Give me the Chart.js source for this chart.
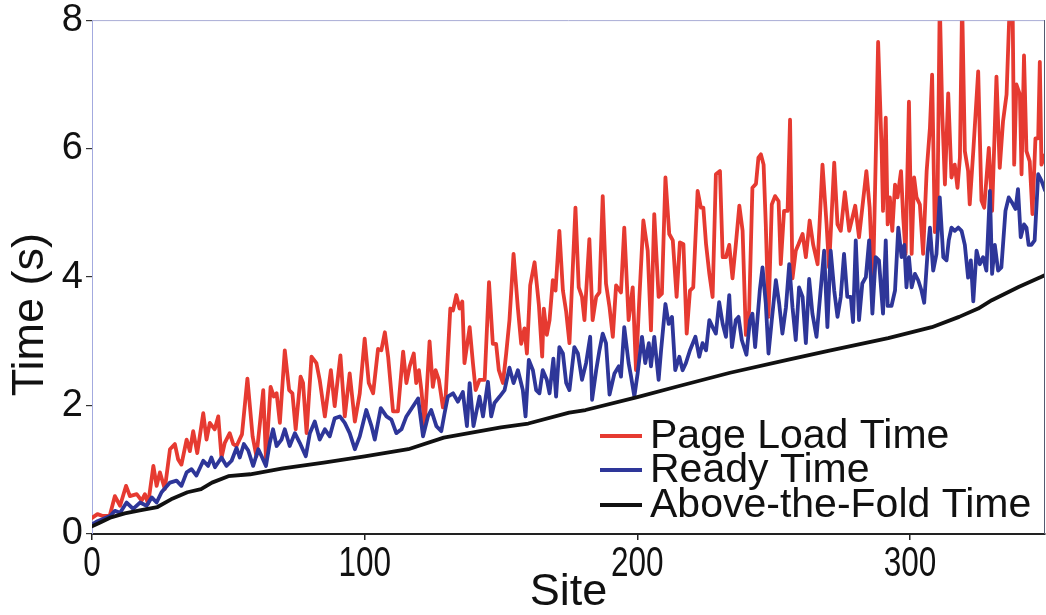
<!DOCTYPE html>
<html>
<head>
<meta charset="utf-8">
<script src="https://cdn.jsdelivr.net/npm/chart.js@4.4.1/dist/chart.umd.min.js"></script>
<style>
  html, body { margin: 0; padding: 0; background: #ffffff; }
  #wrap { width: 1046px; height: 615px; position: relative; }
</style>
</head>
<body>
<div id="wrap"><canvas id="c" width="1046" height="615"></canvas></div>
<script>
// ---------------- data ----------------
const seriesLabels = ["Page Load Time", "Ready Time", "Above-the-Fold Time"];
const xTickValues = [0, 100, 200, 300];
const yTickValues = [0, 2, 4, 6, 8];

const pageLoadSites = [0,2,4,6.6,8.4,10.3,12.5,13.9,16.4,18.2,19.4,20.6,22.5,23.7,24.9,26.7,28.6,30.4,31.6,32.8,34.7,35.9,37.1,38.6,40.8,42.0,43.2,45.0,46.3,47.5,48.7,50.5,51.8,53.0,55.0,57.0,58.9,60.3,61.6,62.8,63.8,65.5,66.7,67.7,68.9,70.7,72.3,73.5,74.7,76.5,77.4,78.7,80.5,82.3,83.5,85.4,87.6,89.0,91.1,92.7,94.5,96.4,98.2,100.0,101.5,103.1,104.9,106.1,107.4,108.6,110.4,112.2,114.1,115.3,116.5,118.0,118.9,119.9,120.8,122.0,123.8,125.0,126.0,127.2,128.7,129.7,131.4,132.4,133.6,134.8,135.8,136.6,138.5,139.7,140.7,142.1,144.0,145.6,147.0,148.2,149.2,150.7,151.9,153.1,154.6,156.2,157.4,158.6,159.5,160.7,162.3,163.9,165.1,165.7,166.8,167.8,169.0,170.0,171.4,172.7,173.9,175.1,177.3,178.5,179.7,180.6,182.4,183.6,184.9,186.1,187.3,188.5,189.8,191.0,192.2,194.0,195.2,196.8,198.3,199.5,200.7,202.2,203.8,205.0,206.2,207.8,209.0,210.3,211.7,213.0,214.4,215.6,216.9,218.1,219.3,220.5,222.1,223.3,224.2,225.2,226.4,227.6,228.8,230.3,231.3,232.5,233.7,234.9,236.1,237.4,238.6,239.8,241.0,242.2,243.5,244.4,245.3,246.3,247.1,248.1,249.3,250.5,251.8,252.6,253.8,255.1,256.0,256.9,258.1,259.1,260.6,261.8,263.2,264.5,266.1,267.9,269.4,270.3,272.2,273.4,274.6,276.1,277.7,278.9,279.9,281.3,282.5,284.0,285.2,286.4,287.4,288.3,289.6,290.1,291.1,291.8,292.6,293.5,294.5,295.4,296.7,297.5,298.4,299.6,300.6,301.5,302.4,303.6,304.8,306.1,307.3,308.1,309.1,310.1,310.9,311.8,312.8,314.0,315.2,316.4,317.4,318.3,319.1,320.1,321.3,321.9,323.2,325.0,326.2,327.2,328.9,330.1,331.7,332.9,334.1,335.4,336.6,337.6,338.2,339.0,340.3,340.9,341.8,342.7,343.9,344.9,346.0,347.0,347.6,348.2,349.5];
const pageLoadTimes = [0.25,0.31,0.28,0.30,0.59,0.44,0.75,0.59,0.62,0.52,0.62,0.47,1.06,0.75,0.96,0.70,1.32,1.40,1.16,1.08,1.47,1.29,1.60,1.26,1.88,1.47,1.73,1.63,1.83,1.19,1.42,1.57,1.40,1.37,1.55,2.42,1.52,1.21,1.73,2.24,1.16,2.29,2.14,2.19,1.73,2.86,2.24,2.19,1.63,2.45,2.35,1.57,2.76,2.66,2.40,1.83,2.55,1.99,2.78,1.83,2.50,1.75,2.19,3.04,2.35,2.19,2.88,2.86,3.14,2.76,1.91,1.91,2.84,2.35,2.61,2.81,2.35,2.55,2.24,1.68,3.00,2.29,2.55,2.40,1.97,2.14,3.51,3.48,3.72,3.51,3.62,2.66,3.22,2.66,2.24,2.40,2.40,3.92,2.96,2.96,2.55,2.35,2.81,3.33,4.36,3.51,2.96,3.20,2.81,3.87,4.23,3.56,2.76,3.51,3.10,3.33,3.95,3.79,4.72,3.79,3.46,2.97,5.08,3.84,3.69,3.33,4.59,3.33,3.69,3.76,5.26,3.90,3.53,3.07,3.87,3.76,4.77,3.33,3.84,2.55,3.64,4.88,4.41,3.17,4.98,3.69,3.74,5.55,4.67,4.57,3.69,4.54,4.51,3.12,3.79,3.84,5.34,5.08,5.08,4.51,4.05,3.69,5.60,5.65,4.31,4.31,4.50,3.98,4.50,5.11,4.72,3.10,3.48,5.39,5.45,5.86,5.91,5.75,4.82,3.38,5.13,5.26,5.18,4.20,5.03,5.03,6.45,3.98,4.41,4.51,4.67,4.31,4.88,4.50,4.20,5.75,4.82,4.15,5.78,4.82,4.72,5.32,4.72,4.93,5.11,4.62,5.08,5.65,5.08,3.84,5.80,7.66,5.96,5.03,6.48,4.82,5.24,4.72,5.44,5.24,5.65,4.93,4.36,6.73,4.36,5.55,5.24,5.13,4.36,5.65,6.32,7.15,4.70,5.24,8.30,6.58,5.44,6.86,5.55,5.75,5.39,5.86,8.30,5.96,5.65,5.13,5.96,7.20,5.19,5.08,6.01,5.03,7.12,5.70,6.42,6.84,8.30,8.30,5.75,7.00,6.84,5.60,7.45,5.96,5.80,4.98,6.16,6.16,7.35,5.75,5.90];

const readySites = [0,2,6.6,8.4,10.3,12.7,15.1,17.6,20.0,21.9,23.7,25.5,28.6,31.0,32.8,34.7,36.5,38.3,40.8,42.6,43.8,45.1,47.5,49.3,51.2,53.0,54.2,55.7,57.3,59.1,61.0,62.2,63.8,65.2,66.4,67.7,69.5,70.7,72.5,74.4,76.2,78.4,79.9,81.7,83.5,85.4,87.2,89.0,90.9,92.7,94.5,96.4,98.2,100.6,102.5,103.7,105.9,108.0,109.8,111.6,113.5,115.3,119.6,121.4,123.2,124.4,126.3,128.1,129.3,130.5,132.4,134.2,136.0,137.5,138.5,139.9,142.1,143.4,145.2,146.4,147.6,149.5,151.3,153.1,154.6,156.2,158.0,159.0,160.2,161.7,162.9,164.1,165.3,166.8,167.8,169.2,170.2,171.4,172.7,173.9,175.1,176.9,178.2,179.7,181.2,182.7,183.4,184.9,186.1,187.3,188.5,189.8,191.6,193.2,194.0,195.2,196.8,197.7,198.9,200.1,201.7,202.9,204.2,205.0,206.2,207.8,208.7,210.3,211.5,212.7,213.9,215.4,216.6,217.8,219.3,221.3,222.7,223.9,225.2,226.4,227.6,228.8,230.0,231.3,232.5,233.7,234.7,236.1,237.1,238.3,240.0,241.3,242.2,243.2,244.9,245.9,247.1,248.1,249.3,250.8,252.0,253.2,254.5,255.7,256.9,258.1,259.3,260.6,261.8,263.0,264.2,265.7,266.9,268.5,269.7,270.9,272.2,273.4,274.6,275.8,277.0,278.3,279.1,280.1,281.3,282.5,283.8,285.0,286.2,287.4,288.6,290.1,291.1,291.8,293.2,294.5,295.7,296.9,297.9,298.7,299.6,300.6,301.8,303.0,304.2,305.2,306.4,307.3,308.5,309.7,310.9,312.2,313.4,314.2,315.2,316.4,317.7,318.9,320.1,321.3,322.3,323.2,324.4,325.6,326.8,328.0,329.3,330.1,331.1,332.3,333.5,335.0,336.2,337.4,338.7,339.6,340.6,341.8,342.7,343.5,344.5,345.7,347.0,348.2,349.5];
const readyTimes = [0.15,0.20,0.28,0.36,0.33,0.49,0.39,0.49,0.44,0.57,0.49,0.65,0.80,0.83,0.75,0.96,1.01,0.91,1.14,1.06,1.19,1.04,1.19,1.06,1.14,1.34,1.19,1.40,1.30,1.06,1.32,1.21,1.06,1.42,1.63,1.37,1.47,1.63,1.37,1.57,1.42,1.21,1.57,1.75,1.47,1.63,1.52,1.80,1.83,1.73,1.57,1.32,1.52,1.93,1.68,1.47,1.96,1.83,1.78,1.57,1.63,1.83,2.11,1.52,1.83,1.93,1.68,1.60,1.88,2.14,2.19,2.06,2.21,1.68,2.35,1.68,2.14,1.83,2.37,1.83,2.04,2.14,2.24,2.59,2.35,2.55,2.24,1.83,2.71,2.55,2.24,2.19,2.55,2.40,2.19,2.73,2.14,2.91,2.81,2.35,2.24,2.91,2.81,2.40,2.66,3.07,2.09,2.55,2.86,3.12,2.97,2.17,2.50,2.61,2.45,3.22,2.66,2.45,2.14,2.50,3.07,2.66,2.97,2.61,3.07,2.40,2.86,3.58,3.27,3.38,2.55,2.76,2.55,2.66,2.86,3.07,2.76,2.97,2.86,3.33,3.22,3.12,3.61,3.27,3.07,3.72,2.91,3.33,3.38,3.02,2.79,3.33,3.43,2.91,3.79,4.15,3.59,2.81,3.33,3.95,3.59,3.12,3.53,4.20,3.53,3.02,3.84,3.69,2.97,3.97,3.43,3.07,3.64,4.41,3.22,4.41,3.79,3.38,3.69,4.36,3.69,3.69,3.30,4.57,3.33,3.90,4.00,4.57,3.43,4.31,4.26,3.43,4.57,3.55,3.55,3.79,4.77,4.31,4.50,3.84,4.31,3.84,4.05,3.95,3.79,3.60,4.36,4.77,4.10,4.36,5.24,4.31,4.26,4.57,4.77,4.72,4.77,4.72,4.50,3.99,4.26,3.62,4.41,4.20,4.31,4.10,5.34,4.05,4.50,4.10,4.15,5.03,5.24,5.16,5.06,5.37,4.62,4.82,4.77,4.50,4.50,4.57,5.60,5.50,5.35];

const aboveFoldSites = [0,3,7,12,18,24,29,35,40,44,50,58,70,85,100,116,129,150,160,175,181,200,215,234,255,270,292,308,318,325,330,340,348,350];
const aboveFoldTimes = [0.12,0.18,0.26,0.32,0.37,0.42,0.54,0.65,0.70,0.80,0.90,0.93,1.02,1.11,1.21,1.32,1.50,1.66,1.72,1.89,1.93,2.13,2.30,2.51,2.71,2.85,3.05,3.22,3.38,3.51,3.64,3.85,4.00,4.04];

const seriesColors = ["#e63a31", "#2e3699", "#111111"];

// ---------------- chart ----------------
function pairs(xs, ys) { return xs.map((x, i) => ({ x: x, y: ys[i] })); }

const FONT = "'Liberation Sans', Arial, Helvetica, sans-serif";

const frameAndLegend = {
  id: 'frameAndLegend',
  afterDatasetsDraw(chart) {
    const ctx = chart.ctx;
    const a = chart.chartArea;
    ctx.save();
    // top & right frame
    ctx.lineWidth = 1;
    ctx.strokeStyle = '#a9add6';
    ctx.beginPath(); ctx.moveTo(a.left, a.top + 0.5); ctx.lineTo(a.right, a.top + 0.5); ctx.stroke();
    ctx.strokeStyle = '#555a70';
    ctx.beginPath(); ctx.moveTo(a.right - 0.5, a.top); ctx.lineTo(a.right - 0.5, a.bottom); ctx.stroke();
    // legend inside plot, bottom right
    const rows = [a.bottom - 98, a.bottom - 64, a.bottom - 29];
    const lx0 = a.left + 508, lx1 = a.left + 550, tx = a.left + 558;
    ctx.font = "41px " + FONT;
    ctx.textBaseline = 'middle';
    ctx.textAlign = 'left';
    chart.data.datasets.forEach((ds, i) => {
      ctx.strokeStyle = ds.borderColor;
      ctx.lineWidth = 4;
      ctx.beginPath(); ctx.moveTo(lx0, rows[i]); ctx.lineTo(lx1, rows[i]); ctx.stroke();
      ctx.fillStyle = '#111111';
      ctx.fillText(ds.label, tx, rows[i] + 1);
    });
    // condensed x tick labels, placed by the x scale
    const xs = chart.scales.x;
    ctx.font = "42px " + FONT;
    ctx.textBaseline = 'top';
    ctx.textAlign = 'center';
    ctx.fillStyle = '#111111';
    xTickValues.forEach(v => {
      const px = xs.getPixelForValue(v);
      ctx.save();
      ctx.translate(px, a.bottom + 9);
      ctx.scale(0.75, 1);
      ctx.fillText(String(v), 0, 0);
      ctx.restore();
    });
    ctx.restore();
  }
};

new Chart(document.getElementById('c'), {
  type: 'line',
  data: {
    datasets: [
      { label: seriesLabels[0], data: pairs(pageLoadSites, pageLoadTimes), borderColor: seriesColors[0], borderWidth: 3.8, order: 2 },
      { label: seriesLabels[1], data: pairs(readySites, readyTimes), borderColor: seriesColors[1], borderWidth: 3.8, order: 1 },
      { label: seriesLabels[2], data: pairs(aboveFoldSites, aboveFoldTimes), borderColor: seriesColors[2], borderWidth: 3.8, order: 0 }
    ]
  },
  options: {
    responsive: false,
    animation: false,
    layout: { padding: { top: 18, right: 1, left: 0, bottom: 0 } },
    elements: { point: { radius: 0 }, line: { tension: 0, borderJoinStyle: 'round', borderCapStyle: 'round' } },
    datasets: { line: { clip: 0 } },
    plugins: { legend: { display: false }, tooltip: { enabled: false } },
    scales: {
      x: {
        type: 'linear', min: 0, max: 349.5,
        afterBuildTicks: s => { s.ticks = xTickValues.map(v => ({ value: v })); },
        afterFit: s => { s.height = 81; },
        border: { display: true, color: '#222222', width: 2 },
        grid: { drawOnChartArea: false, drawTicks: true, tickLength: 6, color: '#222222', lineWidth: 1.5 },
        ticks: { display: false },
        title: { display: true, text: 'Site', color: '#111111', font: { family: FONT, size: 45, lineHeight: 1.0 }, padding: { top: 0, bottom: 0 } }
      },
      y: {
        type: 'linear', min: 0, max: 8,
        afterBuildTicks: s => { s.ticks = yTickValues.map(v => ({ value: v })); },
        afterFit: s => { s.width = 92; },
        border: { display: true, color: '#a3aadf', width: 1 },
        grid: { drawOnChartArea: false, drawTicks: true, tickLength: 6, color: '#333333', lineWidth: 1.2 },
        ticks: { color: '#111111', font: { family: FONT, size: 38, lineHeight: 0.9 }, padding: 3 },
        title: { display: true, text: 'Time (s)      ', color: '#111111', font: { family: FONT, size: 45 }, padding: { top: 4, bottom: 0 } }
      }
    }
  },
  plugins: [frameAndLegend]
});
</script>
</body>
</html>
